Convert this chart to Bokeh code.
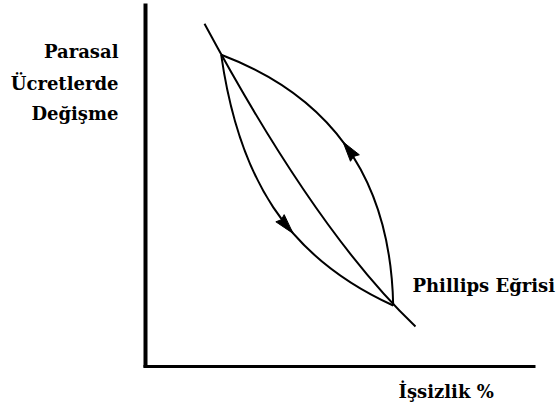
import numpy as np
from bokeh.plotting import figure
from bokeh.models import Range1d
from bokeh.core.properties import value
from bokeh.embed import file_html
from bokeh.resources import INLINE

# ---- data (chart coordinates: origin at the axes corner) ----
# Phillips curve (quadratic): start, control, end
phillips_x = [59.0, 171.3, 270.0]
phillips_y = [342.7, 133.8, 40.0]
# upper loop (quadratic, traversed bottom -> top)
upper_x = [75.7, 244.0, 247.7]
upper_y = [311.7, 248.0, 61.0]
# lower loop (cubic, traversed top -> bottom)
lower_x = [75.7, 93.0, 140.0, 247.7]
lower_y = [311.7, 190.0, 110.0, 61.0]
# arrow positions along loops (curve parameter of the tip)
upper_arrow_t = 0.47
lower_arrow_t = 0.61
# axis extents
x_axis_x = [-2.0, 390.0]
y_axis_y = [-1.0, 363.0]
# labels
y_label_lines = ["Parasal", "Ücretlerde", "Değişme"]
y_label_y = [315.0, 283.0, 253.0]
curve_label = "Phillips Eğrisi"
x_label = "İşsizlik %"

FONT = value("DejaVu Serif")

p = figure(width=556, height=403, output_backend="svg", toolbar_location=None,
           x_axis_type=None, y_axis_type=None, min_border=0,
           x_range=Range1d(-145, 411), y_range=Range1d(-37, 366))
p.outline_line_color = None
p.grid.visible = False
p.background_fill_color = "white"
p.border_fill_color = "white"

# axes
p.line([0, 0], y_axis_y, line_color="black", line_width=4)
p.line(x_axis_x, [0, 0], line_color="black", line_width=3)

# Phillips curve
p.quadratic(x0=[phillips_x[0]], y0=[phillips_y[0]], x1=[phillips_x[2]], y1=[phillips_y[2]],
            cx=[phillips_x[1]], cy=[phillips_y[1]], line_color="black", line_width=2)
# upper loop
p.quadratic(x0=[upper_x[0]], y0=[upper_y[0]], x1=[upper_x[2]], y1=[upper_y[2]],
            cx=[upper_x[1]], cy=[upper_y[1]], line_color="black", line_width=2)
# lower loop
p.bezier(x0=[lower_x[0]], y0=[lower_y[0]], x1=[lower_x[3]], y1=[lower_y[3]],
         cx0=[lower_x[1]], cy0=[lower_y[1]], cx1=[lower_x[2]], cy1=[lower_y[2]],
         line_color="black", line_width=2)


def quad_pt(xs, ys, t):
    a, b, c = (1 - t) ** 2, 2 * t * (1 - t), t ** 2
    return (a * xs[0] + b * xs[1] + c * xs[2], a * ys[0] + b * ys[1] + c * ys[2])


def cubic_pt(xs, ys, t):
    a, b, c, d = (1 - t) ** 3, 3 * t * (1 - t) ** 2, 3 * t ** 2 * (1 - t), t ** 3
    return (a * xs[0] + b * xs[1] + c * xs[2] + d * xs[3],
            a * ys[0] + b * ys[1] + c * ys[2] + d * ys[3])


def head(tip, back, length=20.0, half=5.5):
    tx, ty = tip
    dx, dy = tx - back[0], ty - back[1]
    n = np.hypot(dx, dy)
    ux, uy = dx / n, dy / n
    bx, by = tx - ux * length, ty - uy * length
    nx, ny = -uy, ux
    return ([tx, bx + nx * half, bx + ux * 2, bx - nx * half],
            [ty, by + ny * half, by + uy * 2, by - ny * half])


# upper arrow points toward the start of the curve (upwards)
ut = quad_pt(upper_x, upper_y, upper_arrow_t)
ub = quad_pt(upper_x, upper_y, upper_arrow_t + 0.01)
hx1, hy1 = head(ut, ub)
# lower arrow points toward the end of the curve (downwards)
lt = cubic_pt(lower_x, lower_y, lower_arrow_t)
lb = cubic_pt(lower_x, lower_y, lower_arrow_t - 0.01)
hx2, hy2 = head(lt, lb)
p.patches([hx1, hx2], [hy1, hy2], fill_color="black", line_color="black", line_width=1)

# labels
p.text(x=[-27] * 3, y=y_label_y, text=y_label_lines, text_align="right",
       text_baseline="alphabetic", text_font=FONT, text_font_style="bold",
       text_font_size="18px", text_color="black")
p.text(x=[267], y=[81], text=[curve_label], text_align="left",
       text_baseline="alphabetic", text_font=FONT, text_font_style="bold",
       text_font_size="18px", text_color="black")
p.text(x=[253], y=[-25], text=[x_label], text_align="left",
       text_baseline="alphabetic", text_font=FONT, text_font_style="bold",
       text_font_size="18px", text_color="black")

open("out.html", "w").write(file_html(p, INLINE))
